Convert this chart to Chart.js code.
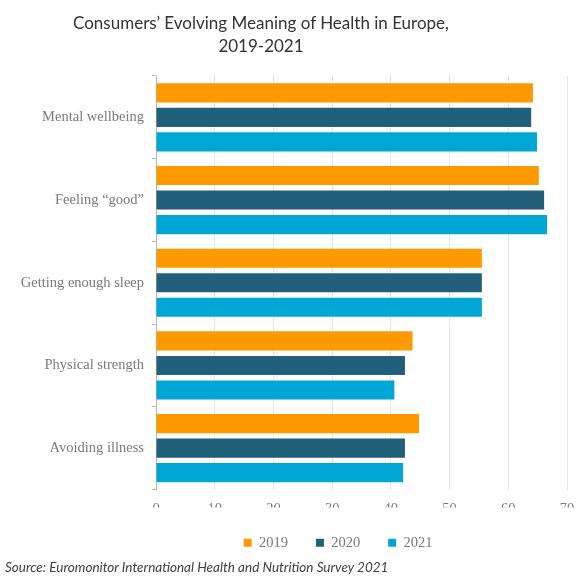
<!DOCTYPE html>
<html>
<head>
<meta charset="utf-8">
<script src="https://cdn.jsdelivr.net/npm/chart.js@4"></script>
<style>
  html, body { margin: 0; padding: 0; background: #fff; }
  #wrap { position: relative; width: 576px; height: 577px; overflow: hidden; }
  #title {
    position: absolute; left: 0; top: 11px; width: 522px;
    text-align: center; font-family: Lato, "Open Sans", sans-serif;
    font-size: 17px; line-height: 23px; color: #333;
  }
  #source {
    position: absolute; left: 5px; top: 559px;
    font-family: Lato, "Open Sans", sans-serif; font-style: italic;
    font-size: 13.5px; color: #404040;
  }
  canvas { position: absolute; left: 0; top: 0; }
</style>
</head>
<body>
<div id="wrap">
  <canvas id="chart" width="576" height="577"></canvas>
  <div id="title">Consumers’ Evolving Meaning of Health in Europe,<br>2019-2021</div>
  <div id="source">Source: Euromonitor International Health and Nutrition Survey 2021</div>
</div>
<script>
// data
const categories = ["Mental wellbeing", "Feeling \u201cgood\u201d", "Getting enough sleep", "Physical strength", "Avoiding illness"];
const years = ["2019", "2020", "2021"];
const values2019 = [64.2, 65.2, 55.5, 43.7, 44.8];
const values2020 = [63.9, 66.1, 55.5, 42.4, 42.4];
const values2021 = [64.9, 66.6, 55.5, 40.6, 42.1];
const xTicks = [0, 10, 20, 30, 40, 50, 60, 70];

const colors = ["#FF9900", "#215F7A", "#00A6D4"];
const serif = { family: '"Liberation Serif", "DejaVu Serif", serif', size: 14.5 };
const grey = "#7a7a7a";
const clear = "rgba(0,0,0,0)";

new Chart(document.getElementById("chart"), {
    type: "bar",
    data: {
        labels: categories,
        datasets: [values2019, values2020, values2021].map((vals, i) => ({
            label: years[i],
            data: vals,
            backgroundColor: colors[i],
            categoryPercentage: 0.89,
            barPercentage: 0.78
        }))
    },
    options: {
        indexAxis: "y",
        responsive: false,
        animation: false,
        events: [],
        layout: { padding: { left: 0, right: 9, top: 76, bottom: 17 } },
        plugins: {
            title: { display: false },
            tooltip: { enabled: false },
            legend: {
                position: "bottom",
                fullSize: false,
                labels: {
                    font: serif,
                    color: grey,
                    boxWidth: 8,
                    boxHeight: 8,
                    padding: 28,
                    // blank trailing entry nudges the centred legend left, as in the original
                    generateLabels: (chart) => {
                        const items = Chart.defaults.plugins.legend.labels.generateLabels(chart);
                        items.push({ text: " ", fillStyle: clear, strokeStyle: clear, lineWidth: 0, fontColor: clear, hidden: false, datasetIndex: -1 });
                        return items;
                    }
                }
            }
        },
        scales: {
            x: {
                min: 0,
                max: 70,
                afterBuildTicks: (axis) => { axis.ticks = xTicks.map(v => ({ value: v })); },
                afterFit: (axis) => { axis.height = 18; axis.paddingRight = 0; },
                ticks: { font: serif, color: grey, padding: 11 },
                grid: { color: "#e3e3e3", drawTicks: false },
                border: { display: false }
            },
            y: {
                afterFit: (axis) => { axis.width = 156; },
                ticks: { font: serif, color: grey, padding: 8 },
                grid: { offset: true, drawOnChartArea: false, tickLength: 4, color: "#b5b5b5" },
                border: { color: "#b5b5b5" }
            }
        }
    }
});
</script>
</body>
</html>
